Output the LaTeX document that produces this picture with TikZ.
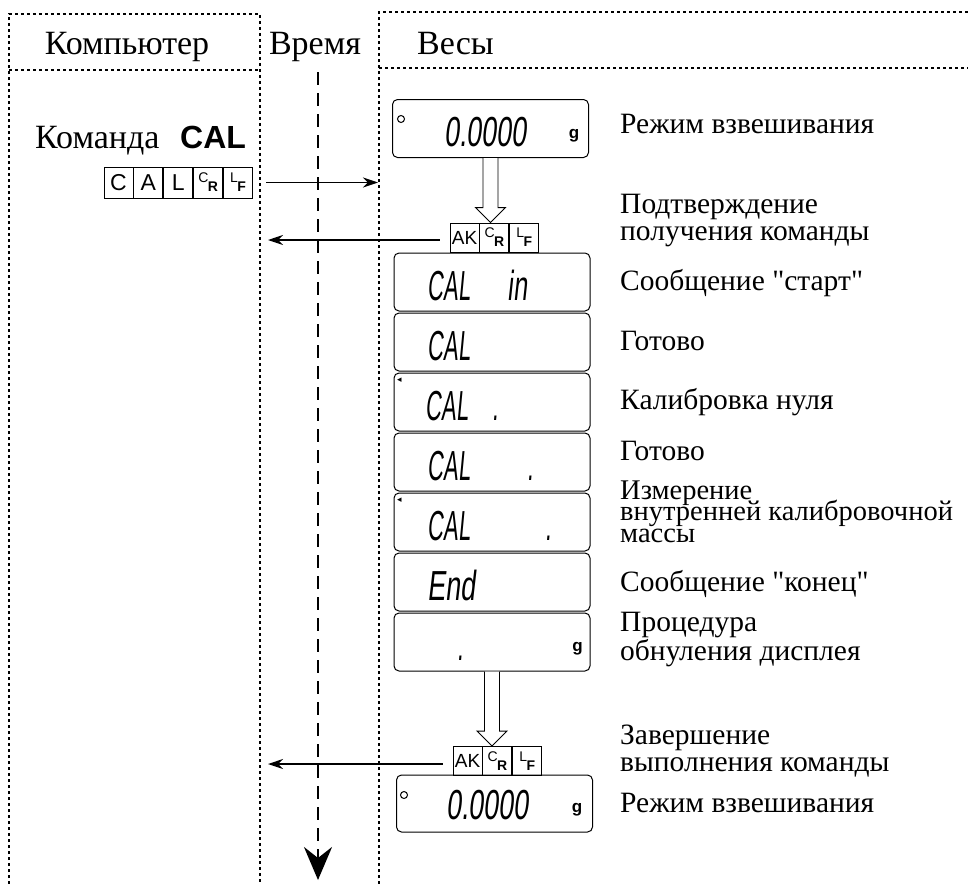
\documentclass[tikz,border=0pt]{standalone}
\usepackage{fontspec}
\setmainfont{Liberation Serif}[Ligatures=TeXOff]
\setsansfont{Liberation Sans}
\newfontfamily\segfont[FakeSlant=0.18]{Liberation Sans}
\newfontfamily\symfont{DejaVu Sans}
\usepackage{graphicx}
\usetikzlibrary{arrows.meta,calc}
\newcommand\seg[2][0.52]{\scalebox{#1}[1]{\segfont\fontsize{42}{42}\selectfont #2}}
\newcommand\subkey[2]{\fontsize{14}{14}\selectfont\raisebox{4pt}{#1}\kern-0.5pt\raisebox{-5pt}{\bfseries #2}}
\newcommand\tightlines{\lineskiplimit=-30pt\relax}
\begin{document}
\begin{tikzpicture}[x=1pt,y=-1pt,
  border/.style={line width=2.8pt, dash pattern=on 2.6pt off 3.4pt},
  disp/.style={draw, line width=1pt, rounded corners=5pt, minimum width=196pt, minimum height=58pt, inner sep=0pt},
  lbl/.style={anchor=base west, inner sep=0pt, font=\fontsize{29.5}{27}\selectfont, align=left},
  hdr/.style={anchor=base, inner sep=0pt, font=\fontsize{34}{34}\selectfont},
  cell/.style={draw, line width=0.9pt, minimum width=29pt, minimum height=31pt, inner sep=0pt, font=\sffamily\fontsize{23}{23}\selectfont},
  akcell/.style={draw, line width=0.9pt, minimum width=29pt, minimum height=29pt, inner sep=0pt, font=\sffamily\fontsize{19}{19}\selectfont},
  msg/.style={-{Stealth[length=15pt,width=10pt,inset=5pt]}, line width=1.4pt},
  hollow/.style={draw, line width=0.9pt, fill=white},
  segtxt/.style={anchor=base west, inner sep=0pt},
  gram/.style={inner sep=0pt, font=\sffamily\bfseries\fontsize{17}{17}\selectfont},
  ring/.style={draw, circle, inner sep=0pt, minimum size=7pt, line width=1pt},
  flag/.style={inner sep=0pt, font=\symfont\fontsize{9}{9}\selectfont}
]
\useasboundingbox (0,0) rectangle (968,883);
\fill[white] (0,0) rectangle (968,883);

% column frames
\draw[border] (9,890) -- (9,14) -- (260,14) -- (260,890);
\draw[border] (9,70) -- (260,70);
\draw[border] (379,890) -- (379,12) -- (975,12);
\draw[border] (379,68) -- (975,68);
\coordinate (RB) at (378,0);
\coordinate (LB) at (268,0);

% headers
\node[hdr] (hComp) at (127,55) {Компьютер};
\node[hdr] (hTime) at (315,55) {Время};
\node[hdr, anchor=base west] (hScale) at (417,55) {Весы};

% time axis
\coordinate (tTop) at (318,72);
\coordinate (tBot) at (318,880);
\draw[line width=2.6pt, dash pattern=on 13pt off 8pt, -{Stealth[length=33pt,width=28pt,inset=11pt]}] (tTop) -- (tBot);

% command
\node[anchor=base west, inner sep=0pt, font=\fontsize{34}{34}\selectfont] (cmd) at (35,148) {Команда};
\node[anchor=base west, inner sep=0pt, font=\sffamily\bfseries\fontsize{32}{32}\selectfont] (cmdCAL) at (180,148) {CAL};
\node[cell] (cal1) at (118.5,182.5) {C};
\node[cell, anchor=west] (cal2) at (cal1.east) {A};
\node[cell, anchor=west] (cal3) at (cal2.east) {L};
\node[cell, anchor=west] (cal4) at (cal3.east) {\subkey{C}{R}};
\node[cell, anchor=west] (cal5) at (cal4.east) {\subkey{L}{F}};
\draw[msg, shorten <=13pt] (cal5.east) -- (cal5.east -| RB);

% displays
\node[disp] (d1) at (490.5,128.5) {};
\node[ring] (d1o) at ($(d1.west)+(9,-9.5)$) {};
\node[segtxt] (d1t) at ($(d1.west)+(52,17.5)$) {\seg[0.64]{0.0000}};
\node[gram] (d1g) at ($(d1.west)+(182,7.5)$) {g};

\node[akcell] (ak1a) at (464.5,237.5) {AK};
\node[akcell, anchor=west] (ak1b) at (ak1a.east) {\subkey{C}{R}};
\node[akcell, anchor=west] (ak1c) at (ak1b.east) {\subkey{L}{F}};
\draw[hollow] ($(d1.south)+(-7.5,0)$) -- ($(d1.south |- ak1b.north)+(-7.5,-15)$) -- ++(-7.5,0) -- (d1.south |- ak1b.north) -- ++(15,-15) -- ++(-7.5,0) -- ($(d1.south)+(7.5,0)$);
\draw[msg, shorten <=10pt] ([yshift=-2.5pt]ak1a.west) -- ([yshift=-2.5pt]ak1a.west -| LB);

\node[disp] (d2) at (492,282) {};
\node[segtxt] (d2t) at ($(d2.west)+(34,18)$) {\seg{CAL}};
\node[segtxt] (d2u) at ($(d2.west)+(114,18)$) {\seg[0.6]{in}};

\node[disp] (d3) at (492,342) {};
\node[segtxt] (d3t) at ($(d3.west)+(34,18)$) {\seg{CAL}};

\node[disp] (d4) at (492,402) {};
\node[flag] (d4m) at ($(d4.west)+(6,-22)$) {◂};
\node[segtxt] (d4t) at ($(d4.west)+(32,18)$) {\seg{CAL}};
\node[segtxt] (d4p) at ($(d4.west)+(99,18)$) {\seg{.}};

\node[disp] (d5) at (492,462) {};
\node[segtxt] (d5t) at ($(d5.west)+(34,18)$) {\seg{CAL}};
\node[segtxt] (d5p) at ($(d5.west)+(134,18)$) {\seg{.}};

\node[disp] (d6) at (492,522) {};
\node[flag] (d6m) at ($(d6.west)+(6,-22)$) {◂};
\node[segtxt] (d6t) at ($(d6.west)+(34,18)$) {\seg{CAL}};
\node[segtxt] (d6p) at ($(d6.west)+(152,18)$) {\seg{.}};

\node[disp] (d7) at (492,582) {};
\node[segtxt] (d7t) at ($(d7.west)+(34,18)$) {\seg[0.64]{End}};

\node[disp] (d8) at (492,642) {};
\node[segtxt] (d8p) at ($(d8.west)+(64,18)$) {\seg{.}};
\node[gram] (d8g) at ($(d8.west)+(184,7)$) {g};

\node[akcell] (ak2a) at (467.5,761) {AK};
\node[akcell, anchor=west] (ak2b) at (ak2a.east) {\subkey{C}{R}};
\node[akcell, anchor=west] (ak2c) at (ak2b.east) {\subkey{L}{F}};
\draw[hollow] ($(d8.south)+(-7.5,0)$) -- ($(d8.south |- ak2b.north)+(-7.5,-15)$) -- ++(-7.5,0) -- (d8.south |- ak2b.north) -- ++(15,-15) -- ++(-7.5,0) -- ($(d8.south)+(7.5,0)$);
\draw[msg, shorten <=10pt] ([yshift=-3pt]ak2a.west) -- ([yshift=-3pt]ak2a.west -| LB);

\node[disp, minimum height=57pt] (d9) at (494.5,803.5) {};
\node[ring] (d9o) at ($(d9.west)+(8,-8.5)$) {};
\node[segtxt] (d9t) at ($(d9.west)+(50,16)$) {\seg[0.64]{0.0000}};
\node[gram] (d9g) at ($(d9.west)+(181,6.5)$) {g};

% labels (base anchor = baseline of the last line)
\node[lbl] (l1) at (620,133) {Режим взвешивания};
\node[lbl] (l2) at (620,240) {Подтверждение\\получения команды};
\node[lbl] (l3) at (620,290) {Сообщение "старт"};
\node[lbl] (l4) at (620,350) {Готово};
\node[lbl] (l5) at (620,409) {Калибровка нуля};
\node[lbl] (l6) at (620,460) {Готово};
\node[lbl, font=\fontsize{28.5}{21.5}\selectfont\tightlines] (l7) at (620,542) {Измерение\\внутренней калибровочной\\массы};
\node[lbl] (l8) at (620,591) {Сообщение "конец"};
\node[lbl] (l9) at (620,660) {Процедура\\обнуления дисплея};
\node[lbl] (l10) at (620,771) {Завершение\\выполнения команды};
\node[lbl] (l11) at (620,812) {Режим взвешивания};
\end{tikzpicture}
\end{document}
